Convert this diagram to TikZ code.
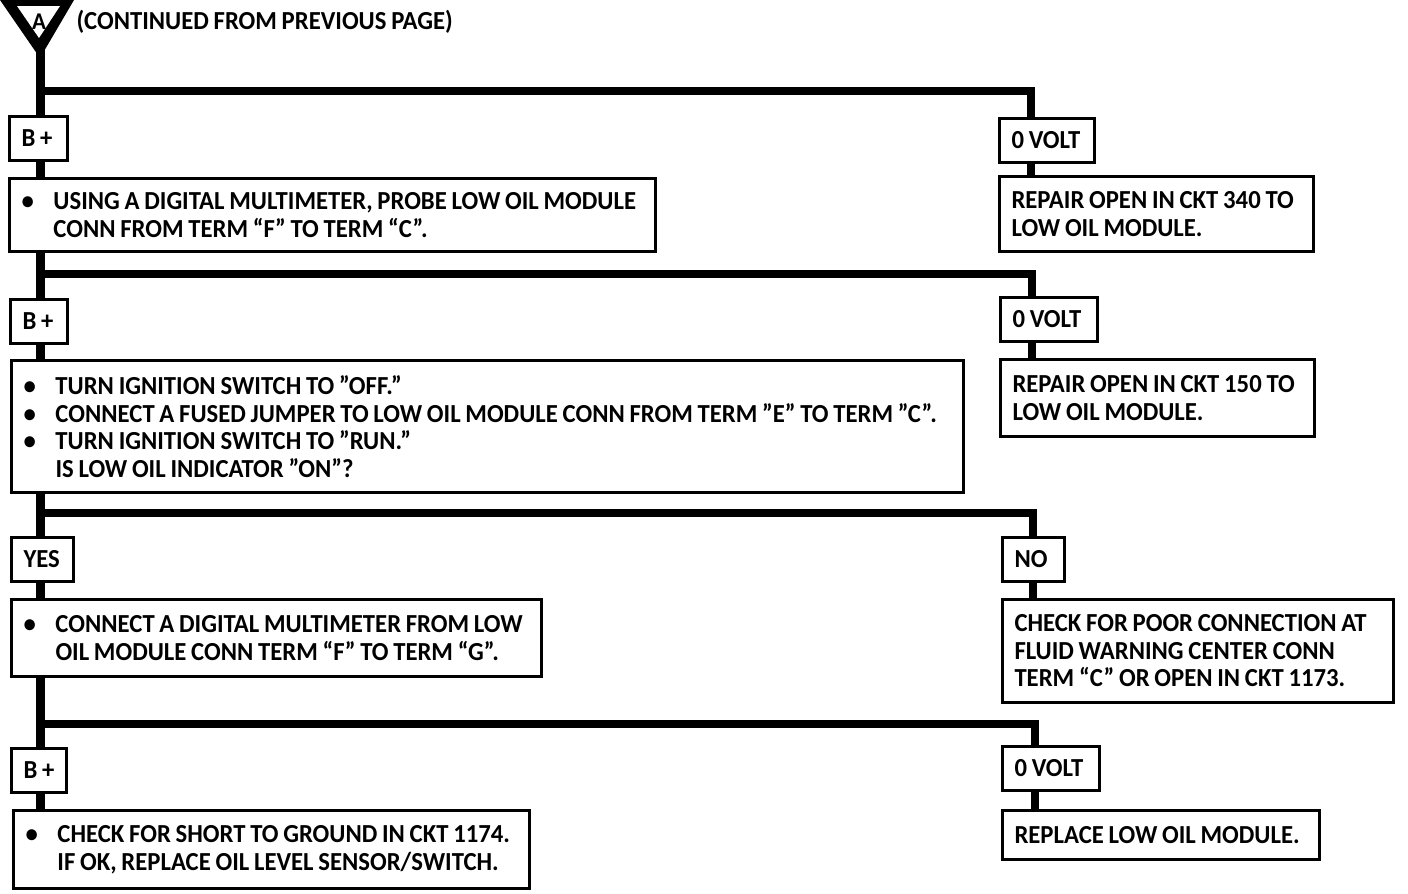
\documentclass[tikz,border=0pt]{standalone}
\usepackage{fontspec}
\setmainfont{Carlito}[WordSpace=0.85, FakeStretch=0.95]
\usetikzlibrary{backgrounds}
\tikzset{
  tagbox/.style={draw, line width=3pt, fill=white, anchor=north west,
    inner xsep=12pt, inner ysep=0pt, minimum height=44pt, align=flush left},
  stepbox/.style={draw, line width=3pt, fill=white, anchor=north west,
    inner xsep=12pt, inner ysep=4pt, align=flush left},
  trunk/.style={line width=9pt},
  branch/.style={line width=8pt}
}
\newcommand{\bul}{\makebox[32pt][l]{\textbullet}}
\newcommand{\ind}{\hspace*{32pt}}
\begin{document}
\begin{tikzpicture}[x=1pt,y=-1pt,
    font=\fontsize{26}{27.5}\selectfont\bfseries]
    \useasboundingbox (0,0) rectangle (1408,894);

    % Entry mark
    \fill (0,0) -- (74,0) -- (40,58) -- cycle;
    \fill[white] (17,6) -- (60,6) -- (39,38) -- cycle;
    \node (mark) at (39,22) {\fontsize{24}{24}\selectfont A};
    \coordinate (top) at (40,50);
    \node[anchor=west] (head) at (73,22) {(CONTINUED FROM PREVIOUS PAGE)};

    % Step 1
    \node[tagbox, text width=34pt] (t1) at (8,115) {B~+};
    \node[stepbox, text width=622pt, minimum height=73pt] (a1) at (8,177)
      {\bul USING A DIGITAL MULTIMETER, PROBE LOW OIL MODULE\\
       \ind CONN FROM TERM “F” TO TERM “C”.};
    \node[tagbox, text width=71pt] (v1) at (998,117) {0~VOLT};
    \node[stepbox, text width=290pt, minimum height=75pt] (r1) at (998,175)
      {REPAIR OPEN IN CKT 340 TO\\ LOW OIL MODULE.};

    % Step 2
    \node[tagbox, text width=33pt] (t2) at (9,298) {B~+};
    \node[stepbox, text width=928pt, minimum height=132pt] (a2) at (10,359)
      {\bul TURN IGNITION SWITCH TO ”OFF.”\\
       \bul CONNECT A FUSED JUMPER TO LOW OIL MODULE CONN FROM TERM ”E” TO TERM ”C”.\\
       \bul TURN IGNITION SWITCH TO ”RUN.”\\
       \ind IS LOW OIL INDICATOR ”ON”?};
    \node[tagbox, text width=73pt] (v2) at (999,296) {0~VOLT};
    \node[stepbox, text width=290pt, minimum height=77pt] (r2) at (999,358)
      {REPAIR OPEN IN CKT 150 TO\\ LOW OIL MODULE.};

    % Step 3
    \node[tagbox, text width=38pt] (t3) at (10,536) {YES};
    \node[stepbox, text width=506pt, minimum height=77pt] (a3) at (10,598)
      {\bul CONNECT A DIGITAL MULTIMETER FROM LOW\\
       \ind OIL MODULE CONN TERM “F” TO TERM “G”.};
    \node[tagbox, text width=38pt] (v3) at (1001,536) {NO};
    \node[stepbox, text width=367pt, minimum height=103pt] (r3) at (1001,598)
      {CHECK FOR POOR CONNECTION AT\\ FLUID WARNING CENTER CONN\\
       TERM “C” OR OPEN IN CKT 1173.};

    % Step 4
    \node[tagbox, text width=31pt] (t4) at (10,747) {B~+};
    \node[stepbox, text width=492pt, minimum height=78pt] (a4) at (12,809)
      {\bul CHECK FOR SHORT TO GROUND IN CKT 1174.\\
       \ind IF OK, REPLACE OIL LEVEL SENSOR/SWITCH.};
    \node[tagbox, text width=73pt] (v4) at (1001,745) {0~VOLT};
    \node[stepbox, text width=293pt, minimum height=49pt] (r4) at (1001,809)
      {REPLACE LOW OIL MODULE.};

    % Flow lines
    \coordinate (j1) at (1031,91);
    \coordinate (j2) at (1032,274);
    \coordinate (j3) at (1033,513);
    \coordinate (j4) at (1035,724);
    \begin{scope}[on background layer]
        \draw[trunk] (top) -- (top |- a4.north);
        \foreach \j/\v/\r in {j1/v1/r1, j2/v2/r2, j3/v3/r3, j4/v4/r4}{
            \draw[branch] (top |- \j) -- (\j) -- (\j |- \v.north);
            \draw[branch] (\j |- \v.south) -- (\j |- \r.north);
        }
    \end{scope}
\end{tikzpicture}
\end{document}
